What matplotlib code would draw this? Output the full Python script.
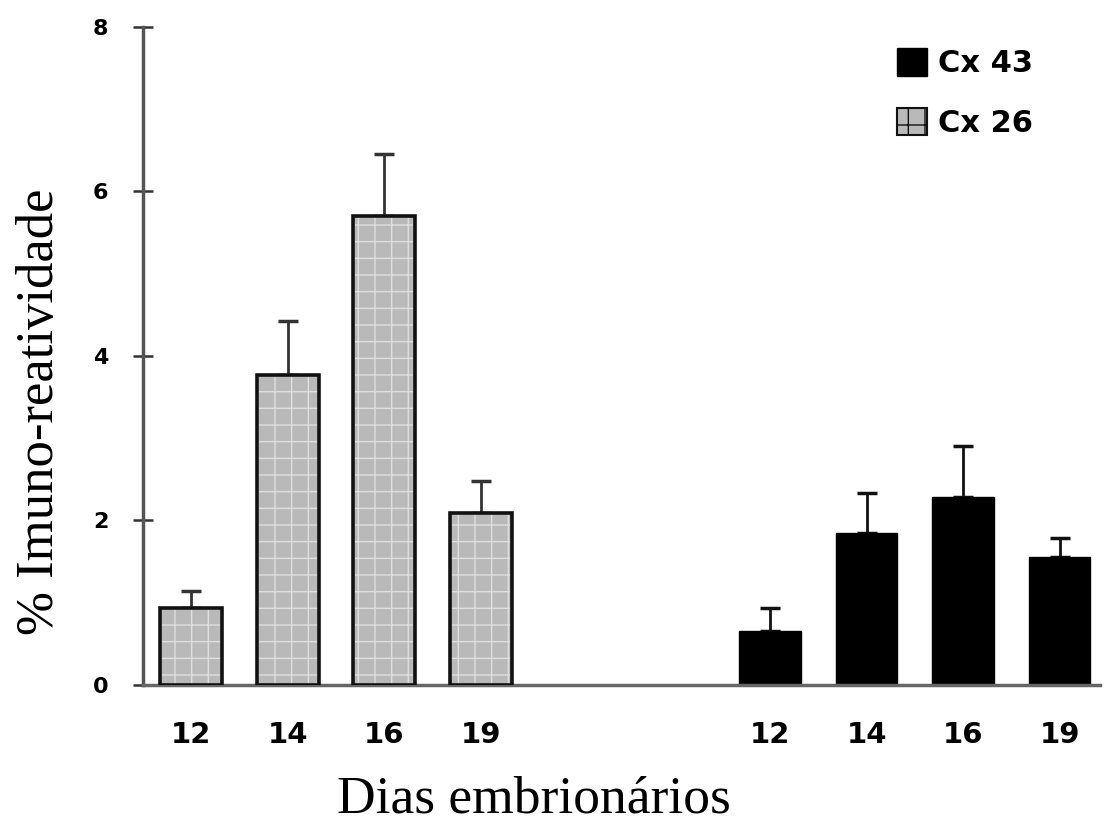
import matplotlib
matplotlib.use("Agg")
import matplotlib.pyplot as plt
import numpy as np
from matplotlib.patches import Patch

days = ["12", "14", "16", "19"]
cx26_mean = [0.94, 3.77, 5.70, 2.09]
cx26_err = [0.20, 0.66, 0.75, 0.39]
cx43_mean = [0.66, 1.85, 2.28, 1.55]
cx43_err = [0.27, 0.48, 0.63, 0.24]
yticks = [0, 2, 4, 6, 8]

fig = plt.figure(figsize=(11.06, 8.22), dpi=100)
ax = fig.add_axes([0.1293, 0.1667, 0.8653, 0.8005])

x26 = np.arange(4)
x43 = np.arange(4) + 6
w = 0.64

# Cx26: patterned gray bars
ax.bar(x26, cx26_mean, width=w, color="#b9b9b9", edgecolor="#dedede",
       hatch="+", linewidth=0, zorder=2)
ax.bar(x26, cx26_mean, width=w, fill=False, edgecolor="#111111",
       linewidth=2.6, zorder=3)
ax.errorbar(x26, cx26_mean, yerr=[np.zeros(4), cx26_err], fmt="none",
            ecolor="#333333", elinewidth=2, capsize=7, capthick=2.5, zorder=1)

# Cx43: black bars
ax.bar(x43, cx43_mean, width=w, color="black", edgecolor="black",
       linewidth=1, zorder=2)
ax.errorbar(x43, cx43_mean, yerr=[np.zeros(4), cx43_err], fmt="none",
            ecolor="#111111", elinewidth=2, capsize=7, capthick=2.5, zorder=1)

ax.set_xlim(-0.5, 9.42)
ax.set_ylim(0, 8)
ax.set_xticks(list(x26) + list(x43))
ax.set_xticklabels(days + days, fontsize=21, fontweight="bold",
                   family="DejaVu Sans")
ax.tick_params(axis="x", length=0, pad=26)
ax.set_yticks(yticks)
ax.set_yticklabels([str(v) for v in yticks], fontsize=16, fontweight="bold",
                   family="DejaVu Sans")
ax.tick_params(axis="y", direction="inout", length=14, width=1.8, pad=18,
               color="#333333")

for s in ["top", "right"]:
    ax.spines[s].set_visible(False)
ax.spines["left"].set_linewidth(2.5)
ax.spines["left"].set_color("#555555")
ax.spines["bottom"].set_linewidth(2.5)
ax.spines["bottom"].set_color("#666666")

ax.set_ylabel("% Imuno-reatividade", fontsize=38, family="Liberation Serif")
ax.yaxis.set_label_coords(-0.0825, 0.415)
ax.set_xlabel("Dias embrionários", fontsize=38.5, family="Liberation Serif")
ax.xaxis.set_label_coords(0.4086, -0.138)

handles = [Patch(facecolor="black", edgecolor="black", label="Cx 43"),
           Patch(facecolor="#b9b9b9", edgecolor="#111111", hatch="+",
                 linewidth=1.5, label="Cx 26")]
leg = ax.legend(handles=handles, loc="upper left", bbox_to_anchor=(0.765, 1.0),
                frameon=False, handlelength=1.0, handleheight=1.0,
                handletextpad=0.35, labelspacing=0.95, borderaxespad=0.3,
                prop={"family": "DejaVu Sans", "weight": "bold", "size": 22})

fig.savefig("out.png", dpi=100)
